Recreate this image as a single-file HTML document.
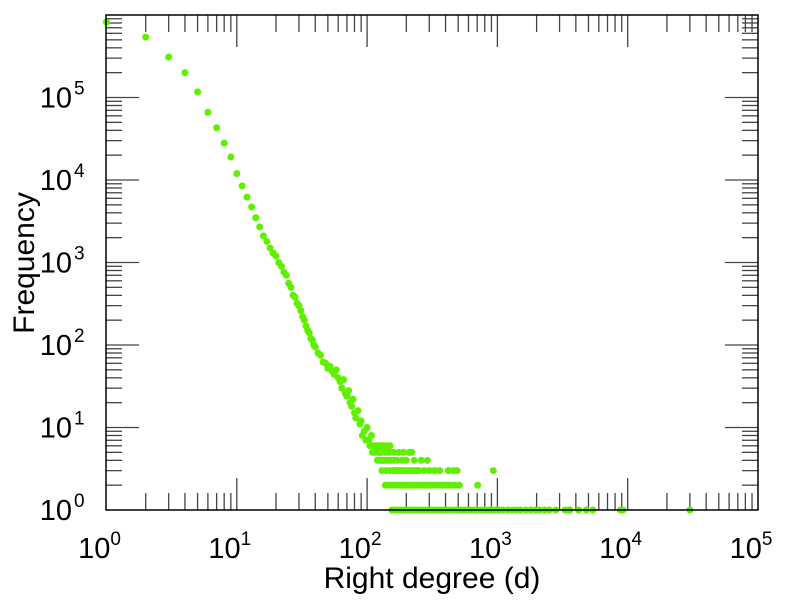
<!DOCTYPE html>
<html><head><meta charset="utf-8"><style>
html,body{margin:0;padding:0;background:#fff;}
svg{display:block;font-family:"Liberation Sans",sans-serif;}
</style></head><body>
<svg id="chart" width="790" height="600" viewBox="0 0 790 600" xmlns="http://www.w3.org/2000/svg">
<rect x="0" y="0" width="790" height="600" fill="#fff"/>
<g id="ticks"></g>
<g id="points"></g>
<rect x="106" y="15" width="652" height="495" fill="none" stroke="#000" stroke-width="1.5"/>
<g id="labels"></g>
<text x="432" y="588" font-size="30" text-anchor="middle">Right degree (d)</text>
<text transform="translate(34,263) rotate(-90)" font-size="30" text-anchor="middle">Frequency</text>
</svg>
<script>
// data: degree values and matching frequencies
const mainDegrees = [1,2,3,4,5,6,7,8,9,10,11,12,13,14,15,16,17,18,19,20,21,22,23,24,25,26,27,28,29,30,31,32,33,34,35,36,37,38,39,40,42,44,46,48,50,52,54,56,58,60,62,64,66,68,70,72,74,76,78,80,82,85,88,90,92,95,98,100,103,105,108,110,112,115,118,120,125,130];
const mainFreqs = [820000,540000,310000,200000,117000,66000,43000,28000,19000,12000,8500,6200,4700,3500,2700,2100,1800,1500,1300,1200,1000,900,760,700,560,500,400,380,320,300,260,220,200,170,150,140,120,115,100,95,80,75,62,60,52,55,48,44,50,40,36,30,38,26,24,28,20,18,22,15,13,16,11,12,8,9,7,10,7,6,8,5,6,5,6,4,5,4];
const f6Degrees = [120,125,130,135,140,150];
const f5Degrees = [115,120,124,130,138,145,150,160,175,190,210,220];
const f4Degrees = [122,128,133,140,147,152,160,170,185,200,230,260,290];
const f3Degrees = [130,140,150,160,165,170,175,180,185,190,200,210,220,230,240,250,275,300,330,360,420,460,490,930];
const f2Degrees = [138,145,155,165,175,185,195,205,215,225,235,245,260,275,290,305,320,340,360,380,400,420,440,470,510,705];
const f1Degrees = [155,165,175,185,195,205,215,225,235,245,255,270,285,300,315,330,350,370,390,410,430,460,490,520,550,580,620,660,700,750,800,850,900,960,1020,1100,1200,1300,1400,1500,1650,1800,1950,2100,2300,2500,2800,3300,3500,3600,4200,4800,5400,8800,9200,30000];
const xTickExps = [0,1,2,3,4,5];
const yTickExps = [0,1,2,3,4,5];

const NS="http://www.w3.org/2000/svg";
const X0=106.5, XDEC=130.3, Y0=510, YDEC=82.5;
function xs(v){return X0+XDEC*Math.log10(v);}
function ys(v){return Y0-YDEC*Math.log10(v);}
function mk(tag,attrs,parent){const e=document.createElementNS(NS,tag);for(const k in attrs)e.setAttribute(k,attrs[k]);parent.appendChild(e);return e;}

const tg=document.getElementById('ticks');
for(let e=0;e<5;e++){
  for(let m=1;m<10;m++){
    const v=m*Math.pow(10,e);
    const x=xs(v), L=(m===1)?32:17;
    if(m>1||e>0){
      const t1=mk('line',{x1:x,x2:x,y1:510,y2:510-L,stroke:'#444','stroke-width':1.3},tg);
      
      
      const t2=mk('line',{x1:x,x2:x,y1:15,y2:15+L,stroke:'#444','stroke-width':1.3},tg);
      
      
    }
  }
}
for(let e=0;e<6;e++){
  for(let m=1;m<10;m++){
    const v=m*Math.pow(10,e);
    const y=ys(v), L=(m===1)?33:16;
    if(m>1||e>0){
      const t1=mk('line',{x1:106,x2:106+L,y1:y,y2:y,stroke:'#444','stroke-width':1.3},tg);
      
      
      const t2=mk('line',{x1:758,x2:758-L,y1:y,y2:y,stroke:'#444','stroke-width':1.3},tg);
      
      
    }
  }
}

const lg=document.getElementById('labels');
xTickExps.forEach(e=>{
  const t=mk('text',{x:xs(Math.pow(10,e))-7,y:558,'font-size':29,'text-anchor':'middle'},lg);
  
  
  t.textContent='10';
  const s=mk('tspan',{dy:-13,'font-size':19},t);
  s.textContent=String(e);
});
yTickExps.forEach(e=>{
  const t=mk('text',{x:72,y:ys(Math.pow(10,e))+10,'font-size':29,'text-anchor':'end'},lg);
  
  
  t.textContent='10';
  const s=mk('tspan',{x:74,dy:-13,'font-size':19,'text-anchor':'start'},t);
  s.textContent=String(e);
});

const pg=document.getElementById('points');
function dot(d,f){
  const c=mk('circle',{cx:xs(d),cy:ys(f),r:3.5,fill:'#5ef000'},pg);
  
  
}
mainDegrees.forEach((d,i)=>dot(d,mainFreqs[i]));
f6Degrees.forEach(d=>dot(d,6));
f5Degrees.forEach(d=>dot(d,5));
f4Degrees.forEach(d=>dot(d,4));
f3Degrees.forEach(d=>dot(d,3));
f2Degrees.forEach(d=>dot(d,2));
f1Degrees.forEach(d=>dot(d,1));
</script>
</body></html>
